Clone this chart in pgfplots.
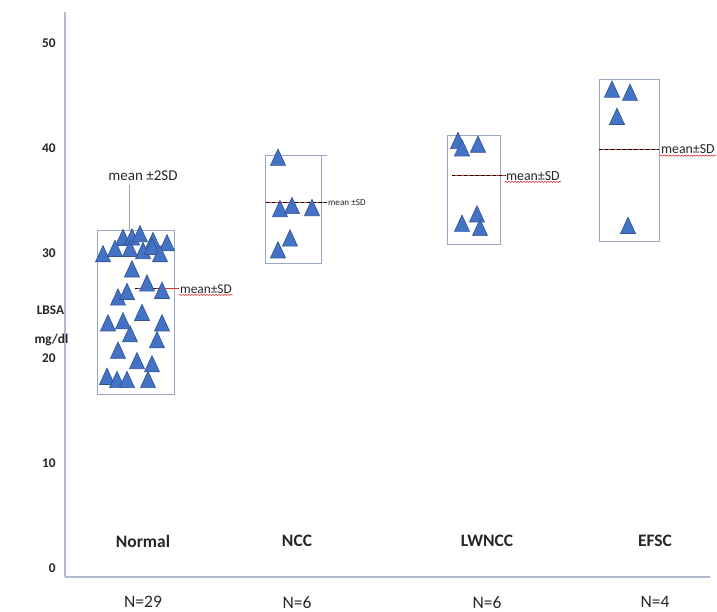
\documentclass[border=0pt]{standalone}
\usepackage{pgfplots}
\pgfplotsset{compat=1.18}
\usepackage{pgfplotstable}
\usepackage{fontspec}
\setmainfont{Carlito}
\usetikzlibrary{decorations.pathmorphing}

\definecolor{tri}{HTML}{4472C4}
\definecolor{triedge}{HTML}{2F5597}
\definecolor{boxc}{HTML}{9AA6C4}
\definecolor{axc}{HTML}{B0BACF}
\definecolor{meanred}{HTML}{E03030}
\definecolor{txt}{HTML}{262626}

% individual LBSA values (x = jittered position within the group)
\pgfplotstableread{
x y
1.23 31.25
1.32 31.3
1.40 31.6
1.53 30.96
1.67 30.74
1.03 29.7
1.15 30.2
1.30 30.2
1.43 30.0
1.52 30.4
1.60 29.7
1.32 28.25
1.18 25.57
1.27 26.1
1.47 26.9
1.62 26.2
1.42 24.1
1.08 23.1
1.23 23.3
1.30 22.06
1.62 23.1
1.57 21.5
1.18 20.5
1.37 19.5
1.52 19.2
1.07 18.0
1.17 17.7
1.27 17.7
1.48 17.7
}\normaldata

\pgfplotstableread{
x y
2.78 38.9
2.80 34.0
2.92 34.3
3.12 34.1
2.90 31.2
2.78 30.07
}\nccdata

\pgfplotstableread{
x y
4.58 40.5
4.62 39.8
4.78 40.15
4.77 33.5
4.62 32.6
4.80 32.2
}\lwnccdata

\pgfplotstableread{
x y
6.12 45.4
6.30 45.1
6.17 42.8
6.28 32.4
}\efscdata

\tikzset{
  meanlbl/.style={anchor=west, inner sep=0.5pt, text=txt},
  squiggle/.style={draw=meanred, line width=0.35pt, decorate,
    decoration={snake, amplitude=0.35pt, segment length=1.8pt}},
  grpname/.style={text=txt, font=\bfseries\fontsize{10.5}{12}\selectfont},
  grpsize/.style={text=txt, font=\fontsize{10.5}{12}\selectfont},
}

\begin{document}
\begin{tikzpicture}
\begin{axis}[
  scale only axis, width=387pt, height=339pt,
  xmin=0.65, xmax=7.10, ymin=-0.9, ymax=53,
  axis x line=bottom, axis y line=left,
  axis line style={draw=axc, line width=0.8pt, -},
  xtick=\empty,
  ytick={0,10,...,50},
  tick style={draw=none},
  /pgf/number format/assume math mode=true,
  yticklabel style={font=\bfseries\fontsize{8}{9}\selectfont, text=txt},
  clip=false,
  boxline/.style={draw=boxc, line width=0.6pt, no marks},
  tri/.style={only marks, mark=triangle*, mark size=5.2pt,
    mark options={fill=tri, draw=triedge, line width=0.4pt, yscale=1.25}},
]
% group boxes
\addplot[boxline] coordinates {(0.98,16.5) (1.75,16.5) (1.75,32.2) (0.98,32.2) (0.98,16.5)};
\addplot[boxline] coordinates {(1.30,32.2) (1.30,36.5)};
\addplot[boxline] coordinates {(2.66,29.0) (3.22,29.0) (3.22,39.3) (2.66,39.3) (2.66,29.0)};
\addplot[boxline] coordinates {(3.22,39.3) (3.27,39.3)};
\addplot[boxline] coordinates {(4.47,30.8) (5.00,30.8) (5.00,41.2) (4.47,41.2) (4.47,30.8)};
\addplot[boxline] coordinates {(5.99,31.1) (6.59,31.1) (6.59,46.6) (5.99,46.6) (5.99,31.1)};

% individual values
\addplot[tri] table {\normaldata};
\addplot[tri] table {\nccdata};
\addplot[tri] table {\lwnccdata};
\addplot[tri] table {\efscdata};

% group means
\addplot[meanred, line width=0.7pt, no marks] coordinates {(1.35,26.6) (1.79,26.6)};
\addplot[black, line width=0.7pt, no marks, dash pattern=on 2pt off 1.5pt] coordinates {(1.35,26.6) (1.60,26.6)};
\addplot[meanred, line width=0.7pt, no marks] coordinates {(2.66,34.85) (3.27,34.85)};
\addplot[black, line width=0.7pt, no marks, dash pattern=on 2pt off 1.5pt] coordinates {(2.66,34.85) (3.27,34.85)};
\addplot[meanred, line width=0.7pt, no marks] coordinates {(4.52,37.4) (5.05,37.4)};
\addplot[black, line width=0.7pt, no marks, dash pattern=on 2pt off 1.5pt] coordinates {(4.52,37.4) (5.05,37.4)};
\addplot[meanred, line width=0.7pt, no marks] coordinates {(5.99,39.9) (6.59,39.9)};
\addplot[black, line width=0.7pt, no marks, dash pattern=on 2pt off 1.5pt] coordinates {(5.99,39.9) (6.59,39.9)};

% annotations
\node[text=txt, font=\fontsize{9}{10}\selectfont] at (axis cs:1.43,37.4) {mean ±2SD};
\node[meanlbl, font=\fontsize{8}{9}\selectfont] (m1) at (axis cs:1.79,26.6) {mean±SD};
\node[meanlbl, font=\fontsize{5.5}{6}\selectfont] (m2) at (axis cs:3.27,34.85) {mean ±SD};
\node[meanlbl, font=\fontsize{8.3}{9}\selectfont] (m3) at (axis cs:5.05,37.4) {mean±SD};
\node[meanlbl, font=\fontsize{8.3}{9}\selectfont] (m4) at (axis cs:6.60,39.9) {mean±SD};
\draw[squiggle] ([yshift=-0.3pt]m1.south west) -- ([yshift=-0.3pt]m1.south east);
\draw[squiggle] ([yshift=-0.3pt]m3.south west) -- ([yshift=-0.3pt]m3.south east);
\draw[squiggle] ([yshift=-0.3pt]m4.south west) -- ([yshift=-0.3pt]m4.south east);

% axis title
\node[text=txt, font=\bfseries\fontsize{8}{9}\selectfont] at (axis cs:0.505,24.6) {LBSA};
\node[text=txt, font=\bfseries\fontsize{8}{9}\selectfont] at (axis cs:0.515,21.7) {mg/dl};

% group names and sizes
\node[grpname] at (axis cs:1.43,2.54) {Normal};
\node[grpname] at (axis cs:2.97,2.54) {NCC};
\node[grpname] at (axis cs:4.87,2.54) {LWNCC};
\node[grpname] at (axis cs:6.55,2.54) {EFSC};
\node[grpsize] at (axis cs:1.43,-3.29) {N=29};
\node[grpsize] at (axis cs:2.97,-3.29) {N=6};
\node[grpsize] at (axis cs:4.87,-3.29) {N=6};
\node[grpsize] at (axis cs:6.55,-3.29) {N=4};

\coordinate (bbl) at (axis cs:0,-4.14);
\coordinate (btr) at (axis cs:7.17,54.16);
\end{axis}
\pgfresetboundingbox
\path[use as bounding box] (bbl) rectangle (btr);
\end{tikzpicture}
\end{document}
